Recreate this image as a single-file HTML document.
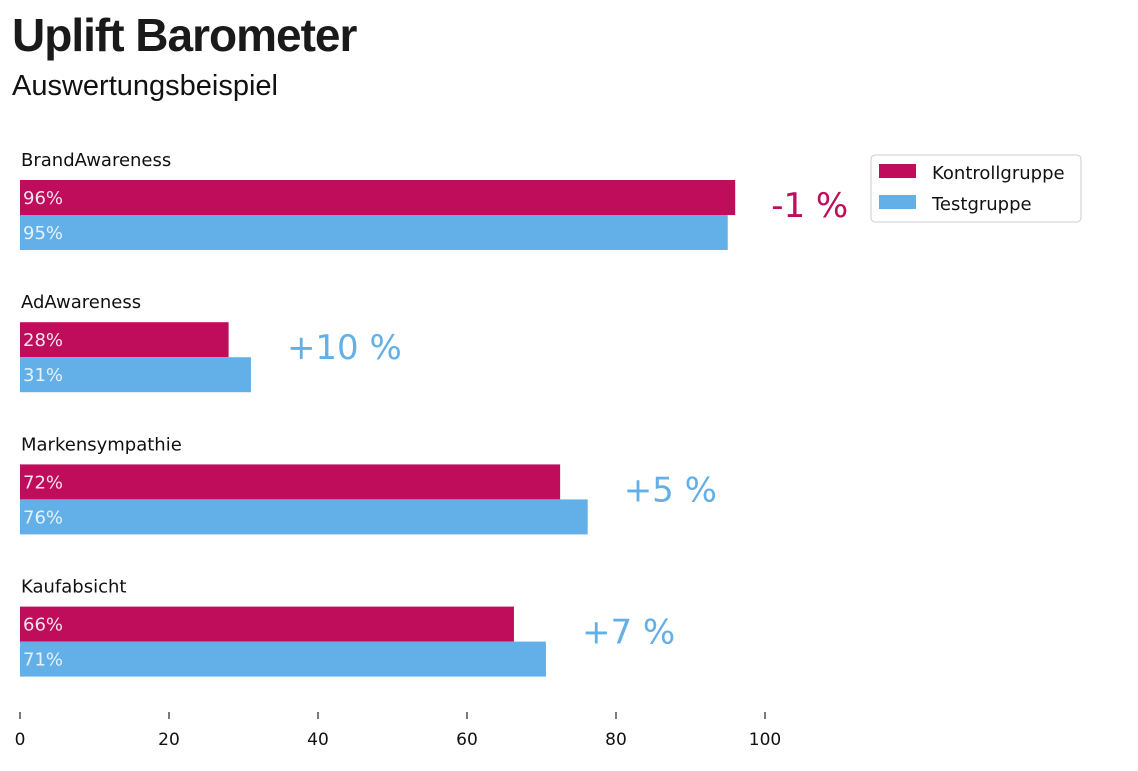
<!DOCTYPE html>
<html><head><meta charset="utf-8"><style>
body{margin:0;background:#fff;width:1138px;height:771px;overflow:hidden;font-family:"Liberation Sans",sans-serif}
h1{position:absolute;left:12px;top:8px;margin:0;font-size:46px;font-weight:bold;color:#1a1a1a;letter-spacing:-1px}
h2{position:absolute;left:12px;top:70px;margin:0;font-size:29px;font-weight:normal;color:#111}
svg{position:absolute;left:0;top:0}
</style></head><body>
<h1>Uplift Barometer</h1>
<h2>Auswertungsbeispiel</h2>
<svg id="c" width="1138" height="771"></svg>
<script>
const categories=["BrandAwareness","AdAwareness","Markensympathie","Kaufabsicht"];
const kontroll=[96,28,72.5,66.3];
const test=[95,31,76.2,70.6];
const kontrollLabels=["96%","28%","72%","66%"];
const testLabels=["95%","31%","76%","71%"];
const uplifts=["-1 %","+10 %","+5 %","+7 %"];
const ticks=[0,20,40,60,80,100];
const NS="http://www.w3.org/2000/svg";
const svg=document.getElementById('c');
const x=v=>20+v*7.45;
const groupY=i=>180+i*142.2;
function mk(t,a,txt){const e=document.createElementNS(NS,t);for(const k in a)e.setAttribute(k,a[k]);if(txt!==undefined)e.textContent=txt;svg.appendChild(e);return e;}
const F='"DejaVu Sans",sans-serif';
categories.forEach((c,i)=>{
  const y=groupY(i);
  let e=mk('text',{x:21,y:y-14,'font-family':F,'font-size':18,fill:'#111'},c);
  
  
  e=mk('rect',{x:x(0),y:y,width:x(kontroll[i])-x(0),height:35,fill:'#bf0d5c'});
  
  
  e=mk('rect',{x:x(0),y:y+35,width:x(test[i])-x(0),height:35,fill:'#63b0e9'});
  
  
  e=mk('text',{x:23,y:y+24,'font-family':F,'font-size':18,fill:'#f4e4ee'},kontrollLabels[i]);
  
  
  e=mk('text',{x:23,y:y+59,'font-family':F,'font-size':18,fill:'#e4f2fc'},testLabels[i]);
  
  
  const neg=uplifts[i].startsWith('-');
  e=mk('text',{x:x(Math.max(kontroll[i],test[i]))+36,y:y+37,'font-family':F,'font-size':34,fill:neg?'#bf0d5c':'#63b0e9'},uplifts[i]);
  
  
});
ticks.forEach(t=>{
  let e=mk('line',{x1:x(t),x2:x(t),y1:712,y2:719,stroke:'#222','stroke-width':1.2});
  
  
  e=mk('text',{x:x(t),y:745,'font-family':F,'font-size':17,fill:'#111','text-anchor':'middle'},String(t));
  
  
});
let lg=mk('rect',{x:871,y:155,width:210,height:67,rx:4,fill:'#fff',stroke:'#ccc'});


[['Kontrollgruppe','#bf0d5c',172],['Testgruppe','#63b0e9',203]].forEach(([n,c,yy])=>{
  let e=mk('rect',{x:879,y:yy-8,width:37,height:14,fill:c});
  
  
  e=mk('text',{x:932,y:yy+7,'font-family':F,'font-size':18,fill:'#111'},n);
  
  
});
</script>
</body></html>
